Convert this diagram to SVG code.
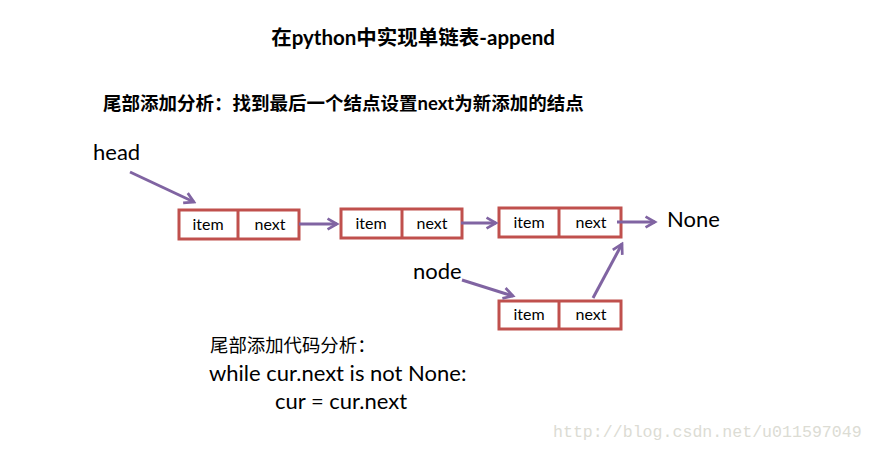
<svg xmlns="http://www.w3.org/2000/svg" width="874" height="450" viewBox="0 0 874 450">
<style>
.box{fill:#fff;stroke:#C0504D;stroke-width:3}
.div{stroke:#C0504D;stroke-width:3}
.cell{font-family:"Lato","Liberation Sans","Noto Sans CJK SC",sans-serif;font-size:16px;fill:#000;text-anchor:middle}
.lbl{font-family:"Lato","Liberation Sans","Noto Sans CJK SC",sans-serif;font-size:22px;fill:#000}
.cjk{font-family:"Lato","Noto Sans CJK SC",sans-serif;fill:#000}
.arr{stroke:#8064A2;stroke-width:3;fill:none;marker-end:url(#ah)}
</style>
<defs>
<marker id="ah" viewBox="0 0 10 10" refX="8" refY="5" markerWidth="4.5" markerHeight="4.5" orient="auto" markerUnits="strokeWidth">
<path d="M1,1 L8,5 L1,9" fill="none" stroke="#8064A2" stroke-width="2"/>
</marker>
</defs>
<rect width="874" height="450" fill="#fff"/>
<text class="cjk" x="413" y="45" font-size="20.5" font-weight="bold" text-anchor="middle">在python中实现单链表-append</text>
<text class="cjk" x="103" y="110" font-size="18.5" font-weight="bold">尾部添加分析：找到最后一个结点设置next为新添加的结点</text>
<text class="lbl" x="93" y="160">head</text>
<text class="lbl" x="667" y="227">None</text>
<text class="lbl" x="413" y="279">node</text>
<g id="n1"><rect class="box" x="179" y="210" width="120" height="29"/><line class="div" x1="238" y1="210" x2="238" y2="239"/><text class="cell" x="208" y="230">item</text><text class="cell" x="270" y="230">next</text></g>
<g id="n2"><rect class="box" x="341" y="209" width="121" height="29"/><line class="div" x1="402" y1="209" x2="402" y2="238"/><text class="cell" x="371" y="229">item</text><text class="cell" x="432" y="229">next</text></g>
<g id="n3"><rect class="box" x="499" y="208" width="122" height="29"/><line class="div" x1="559" y1="208" x2="559" y2="237"/><text class="cell" x="529" y="228">item</text><text class="cell" x="591" y="228">next</text></g>
<g id="n4"><rect class="box" x="499" y="301" width="122" height="28"/><line class="div" x1="559" y1="301" x2="559" y2="329"/><text class="cell" x="529" y="320">item</text><text class="cell" x="591" y="320">next</text></g>
<g id="connectors">
<line class="arr" x1="130" y1="172" x2="194" y2="202"/>
<line class="arr" x1="299" y1="224" x2="337" y2="224"/>
<line class="arr" x1="461" y1="223" x2="496" y2="223"/>
<line class="arr" x1="617" y1="222" x2="655" y2="222"/>
<line class="arr" x1="462" y1="280" x2="513" y2="296"/>
<line class="arr" x1="593" y1="298" x2="622" y2="244"/>
</g>
<text class="cjk" x="210" y="352" font-size="18.4">尾部添加代码分析：</text>
<text class="lbl" x="209" y="381">while cur.next is not None:</text>
<text class="lbl" x="275" y="409">cur = cur.next</text>
<text x="553" y="437" font-family="Liberation Mono,monospace" font-size="16.6" fill="#dcdcd4">http://blog.csdn.net/u011597049</text>
</svg>
